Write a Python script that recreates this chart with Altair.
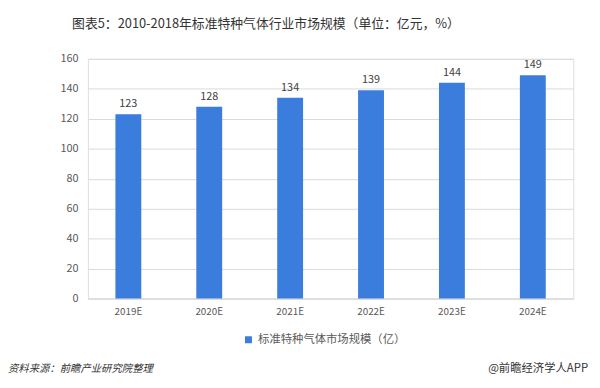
import altair as alt
import pandas as pd

years = ["2019E", "2020E", "2021E", "2022E", "2023E", "2024E"]
values = [123, 128, 134, 139, 144, 149]
series_name = "标准特种气体市场规模（亿）"
title_text = "图表5：2010-2018年标准特种气体行业市场规模（单位：亿元，%）"
source_text = "资料来源：前瞻产业研究院整理"
brand_text = "@前瞻经济学人APP"

df = pd.DataFrame({"year": years, "value": values, "series": [series_name] * len(years)})

FONT = "Noto Sans CJK SC"
BLUE = "#3b7ddd"

base = alt.Chart(df)

bars = base.mark_bar(color=BLUE).encode(
    x=alt.X("year:N", sort=years, title=None,
            scale=alt.Scale(paddingInner=0.68, paddingOuter=0.34),
            axis=alt.Axis(labelAngle=0, labelFontSize=10, labelColor="#595959",
                          domainColor="#d9d9d9", ticks=False, labelPadding=8,
                          labelFont=FONT)),
    y=alt.Y("value:Q", title=None,
            scale=alt.Scale(domain=[0, 160]),
            axis=alt.Axis(values=list(range(0, 161, 20)), tickCount=9,
                          labelOverlap=False, labelFontSize=11,
                          labelColor="#595959", gridColor="#d9d9d9", domain=False,
                          ticks=False, labelPadding=10, labelFont=FONT)),
    fill=alt.Fill("series:N", scale=alt.Scale(range=[BLUE]),
                  legend=alt.Legend(title=None, orient="none", legendX=157, legendY=279,
                                    symbolType="square", symbolSize=50,
                                    labelFontSize=11.5, labelColor="#595959",
                                    labelFont=FONT, symbolStrokeWidth=0)),
)

labels = base.mark_text(dy=-10, fontSize=11, color="#404040", font=FONT).encode(
    x=alt.X("year:N", sort=years),
    y="value:Q",
    text="value:Q",
)

src = alt.Chart(pd.DataFrame({"t": [source_text]})).mark_text(
    align="left", baseline="middle", fontSize=10.5, fontStyle="italic",
    color="#333333", font=FONT
).encode(x=alt.value(-81), y=alt.value(314), text="t:N")

brand = alt.Chart(pd.DataFrame({"t": [brand_text]})).mark_text(
    align="right", baseline="middle", fontSize=11.5,
    color="#333333", font=FONT
).encode(x=alt.value(507), y=alt.value(314), text="t:N")

chart = alt.layer(bars, labels, src, brand).properties(
    width=492, height=243,
    padding={"left": 81, "top": 49, "right": 19, "bottom": 80},
    autosize=alt.AutoSizeParams(type="none"),
    title=alt.TitleParams(title_text, anchor="start", dx=65, fontSize=13,
                          fontWeight="normal", color="#333333", font=FONT, offset=22),
).configure_view(stroke=None).configure(background="white")

chart.save("out.html", embed_options={"renderer": "svg", "actions": False})
